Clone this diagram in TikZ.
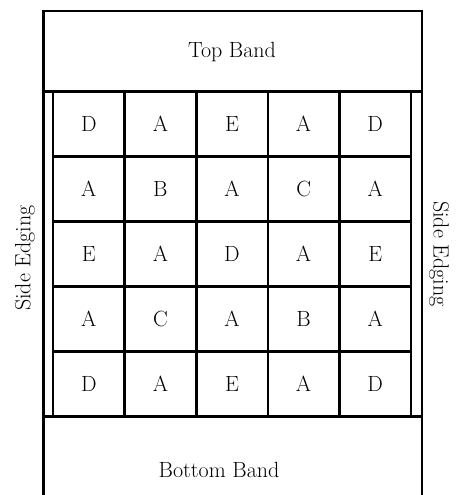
\documentclass[tikz,border=0pt]{standalone}
\usepackage{tikz}
\definecolor{qline}{HTML}{000000}
\definecolor{qtext}{HTML}{000000}
\newcommand{\qfont}{\fontsize{22}{26}\selectfont}
\tikzset{
  edgeline/.style={draw=qline, line width=2.8pt},
  cell/.style={draw=qline, line width=2.6pt, minimum width=71.6pt,
    minimum height=65pt, inner sep=0pt, font=\qfont, text=qtext},
  lbl/.style={font=\qfont, text=qtext, inner sep=0pt},
}

\begin{document}
\begin{tikzpicture}[x=1pt, y=-1pt]
    \useasboundingbox (0,0) rectangle (460,495);
    % outer frame, open at the bottom
    \draw[edgeline] (43.5,495) -- (43.5,11) -- (422,11) -- (422,495);
    \draw[edgeline] (43.5,91.5) -- (422,91.5);
    \draw[edgeline] (43.5,416.5) -- (422,416.5);
    % the 5x5 field
    \foreach \row [count=\r] in {{D,A,E,A,D},{A,B,A,C,A},{E,A,D,A,E},{A,C,A,B,A},{D,A,E,A,D}} {
      \foreach \letter [count=\c] in \row {
        \node[cell] (cell-\r-\c) at ({53+71.6*(\c-0.5)}, {91.5+65*(\r-0.5)}) {\letter};
      }
    }
    \node[lbl, anchor=base] (topband) at (232,57.3) {Top Band};
    \node[lbl, anchor=base] (bottomband) at (219,477) {Bottom Band};
    \node[lbl, rotate=90] (leftedge) at (25,258) {Side Edging};
    \node[lbl, rotate=-90] (rightedge) at (439,254) {Side Edging};
  \end{tikzpicture}
\end{document}
